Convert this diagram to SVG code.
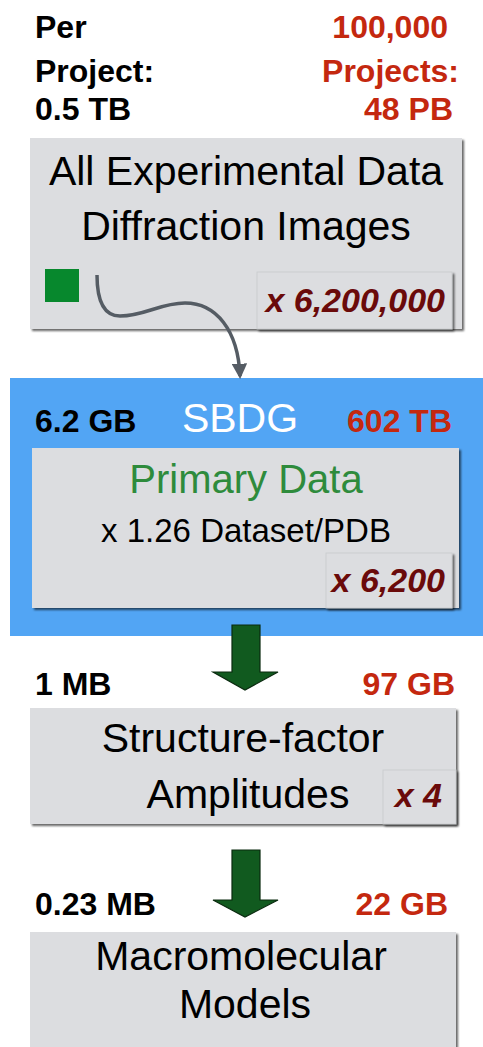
<svg xmlns="http://www.w3.org/2000/svg" width="483" height="1047" viewBox="0 0 483 1047">
<defs>
<filter id="sh" x="-5%" y="-5%" width="112%" height="115%">
<feGaussianBlur in="SourceAlpha" stdDeviation="1.2"/>
<feOffset dx="1.5" dy="2" result="o"/>
<feComponentTransfer><feFuncA type="linear" slope="0.6"/></feComponentTransfer>
<feMerge><feMergeNode/><feMergeNode in="SourceGraphic"/></feMerge>
</filter>
<marker id="ah" viewBox="0 0 10 10" refX="8" refY="5" markerWidth="4.4" markerHeight="4.4" orient="auto" markerUnits="strokeWidth">
<path d="M0,0 L10,5 L0,10 z" fill="#555c64"/>
</marker>
</defs>
<style>
text{font-family:"Liberation Sans",Arial,sans-serif}
.hd{font-size:32px;font-weight:bold;fill:#000}
.hr{font-size:32px;font-weight:bold;fill:#c4280f;text-anchor:end}
.big{font-size:41px;fill:#000;text-anchor:middle}
.mul{font-size:34px;font-weight:bold;font-style:italic;fill:#6a0a0a;text-anchor:end}
.box{fill:#dcdde0}
.sub{fill:#dcdde0;stroke:#c9cacd;stroke-width:0.8}
.garrow{fill:#115a1f;stroke:#0a2a0f;stroke-width:1.2}
</style>

<g id="header">
<text class="hd" x="35" y="38">Per</text>
<text class="hd" x="35" y="82">Project:</text>
<text class="hd" x="35" y="120">0.5 TB</text>
<text class="hr" x="448" y="38">100,000</text>
<text class="hr" x="459" y="82">Projects:</text>
<text class="hr" x="453" y="120">48 PB</text>
</g>

<g id="node-experimental">
<rect class="box" x="30" y="138" width="432" height="191" filter="url(#sh)"/>
<text class="big" x="246" y="185">All Experimental Data</text>
<text class="big" x="246" y="240">Diffraction Images</text>
<rect x="45" y="269" width="34" height="33" fill="#07882d"/>
<rect class="sub" x="257" y="272" width="195" height="57" filter="url(#sh)"/>
<text class="mul" x="445" y="312">x 6,200,000</text>
</g>

<g id="node-sbdg">
<rect x="10" y="378" width="473" height="258" fill="#52a5f4"/>
<text class="hd" x="35" y="432">6.2 GB</text>
<text x="240" y="432" font-size="41" fill="#ffffff" text-anchor="middle">SBDG</text>
<text class="hr" x="452" y="432">602 TB</text>
<rect class="box" x="32" y="448" width="427" height="160" filter="url(#sh)"/>
<text x="246" y="493" font-size="40" fill="#2e8b3c" text-anchor="middle">Primary Data</text>
<text x="246" y="542" font-size="33" fill="#000" text-anchor="middle">x 1.26 Dataset/PDB</text>
<rect class="sub" x="326" y="553" width="126" height="55" filter="url(#sh)"/>
<text class="mul" x="445" y="592">x 6,200</text>
</g>

<g id="node-structure">
<text class="hd" x="35" y="695">1 MB</text>
<text class="hr" x="455" y="695">97 GB</text>
<rect class="box" x="30" y="708" width="426" height="116" filter="url(#sh)"/>
<text class="big" x="243" y="752">Structure-factor</text>
<text class="big" x="248" y="808">Amplitudes</text>
<rect class="sub" x="383" y="770" width="73" height="54" filter="url(#sh)"/>
<text class="mul" x="442" y="807">x 4</text>
</g>

<g id="node-models">
<text class="hd" x="35" y="915">0.23 MB</text>
<text class="hr" x="448" y="915">22 GB</text>
<rect class="box" x="30" y="932" width="426" height="125" filter="url(#sh)"/>
<text class="big" x="241" y="970">Macromolecular</text>
<text class="big" x="245" y="1018">Models</text>
</g>

<g id="connectors">
<path d="M97,275 C97,300 104,316 120,316 C145,316 160,303 185,303 C216,303 238,330 240,376" fill="none" stroke="#555c64" stroke-width="3.5" marker-end="url(#ah)"/>
<path class="garrow" d="M232,625 H260 V672 H278 L245,690 L213,672 H232 Z"/>
<path class="garrow" d="M232,850 H260 V900 H278 L245,917 L213,900 H232 Z"/>
</g>
</svg>
